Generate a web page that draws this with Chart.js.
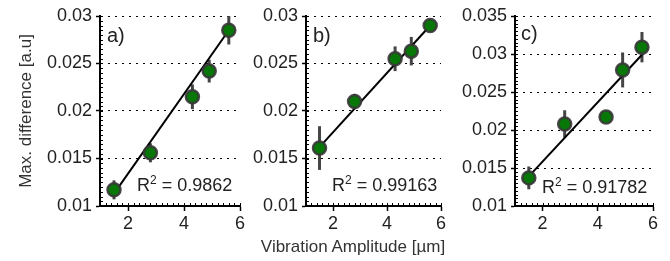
<!DOCTYPE html>
<html>
<head>
<meta charset="utf-8">
<script src="https://cdn.jsdelivr.net/npm/chart.js@4.4.1/dist/chart.umd.min.js"></script>
<style>
body{margin:0;background:#fff;width:670px;height:261px;overflow:hidden;position:relative;font-family:"Liberation Sans",Arial,sans-serif;color:#222}
.panel{position:absolute;top:0;height:261px}
.lbl{position:absolute;font-size:20px;line-height:1}
.r2{position:absolute;font-size:18px;line-height:1;white-space:nowrap}
.r2 sup{font-size:12px;position:relative;top:-2px;vertical-align:top}
#xtitle{position:absolute;left:253px;width:200px;top:237px;text-align:center;font-size:17px;color:#333;white-space:nowrap}
</style>
</head>
<body>

<div class="panel" style="left:0;width:250px"><canvas id="chartA"></canvas></div>
<div class="panel" style="left:250px;width:200px"><canvas id="chartB"></canvas></div>
<div class="panel" style="left:450px;width:220px"><canvas id="chartC"></canvas></div>

<div class="lbl" style="left:107px;top:25px">a)</div>
<div class="lbl" style="left:313px;top:25px">b)</div>
<div class="lbl" style="left:521px;top:23px">c)</div>

<div class="r2" style="left:137px;top:176px">R<sup>2</sup> = 0.9862</div>
<div class="r2" style="left:332px;top:176px">R<sup>2</sup> = 0.99163</div>
<div class="r2" style="left:542px;top:178px">R<sup>2</sup> = 0.91782</div>

<div id="xtitle">Vibration Amplitude [µm]</div>

<script>

// amplitudes (same for the three panels)
const xVals = [1.5, 2.8, 4.3, 4.9, 5.6];

const yA = [0.0117, 0.0156, 0.0215, 0.0242, 0.0285];
const errA = [0.001, 0.001, 0.0013, 0.0012, 0.0015];

const yB = [0.0161, 0.0210, 0.0255, 0.0263, 0.0290];
const errB = [0.0023, 0.0008, 0.0013, 0.0015, 0.0005];

const yC = [0.0137, 0.0208, 0.0217, 0.0279, 0.0309];
const errC = [0.0015, 0.0018, 0.0004, 0.0023, 0.002];

// fitted lines, ends
const fitX = [1.5, 5.6];
const fitA = [0.0113, 0.0285];
const fitB = [0.0162, 0.0290];
const fitC = [0.0139, 0.0299];

const xTicks = [2, 4, 6];
const yTicksAB = [0.01, 0.015, 0.02, 0.025, 0.03];
const yTicksC = [0.01, 0.015, 0.02, 0.025, 0.03, 0.035];

const FONT = "'Liberation Sans', Arial, sans-serif";

const extras = {
    id: "extras",
    beforeDatasetsDraw(chart, args, opts){
        const {ctx, scales:{x, y}} = chart;
        ctx.save();
        ctx.strokeStyle = "#454545";
        ctx.lineWidth = 3;
        opts.err.forEach((e, i) => {
            const px = x.getPixelForValue(xVals[i]);
            ctx.beginPath();
            ctx.moveTo(px, y.getPixelForValue(opts.vals[i] - e));
            ctx.lineTo(px, y.getPixelForValue(opts.vals[i] + e));
            ctx.stroke();
        });
        ctx.restore();
    },
    afterDraw(chart){
        // minor ticks, pointing inside
        const {ctx, scales:{x, y}} = chart;
        ctx.save();
        ctx.strokeStyle = "#000";
        ctx.lineWidth = 1;
        const yb = y.bottom;
        for(let i = 0; i <= 25; i++){
            const px = Math.round(x.getPixelForValue(x.min + i * 0.2)) + 0.5;
            ctx.beginPath();
            ctx.moveTo(px, yb);
            ctx.lineTo(px, yb - 3);
            ctx.stroke();
        }
        const n = Math.round((y.max - y.min) / 0.0005);
        const xl = x.left;
        for(let i = 0; i <= n; i++){
            const py = Math.round(y.getPixelForValue(y.min + i * 0.0005)) + 0.5;
            ctx.beginPath();
            ctx.moveTo(xl, py);
            ctx.lineTo(xl + 3, py);
            ctx.stroke();
        }
        ctx.restore();
    }
};

function makePanel(id, vals, err, fit, yTicks, yWidth, rightPad, showTitle){

    new Chart(
        document.getElementById(id),
        {
            data:{
                datasets:[
                    {
                        type:"scatter",
                        data: xVals.map((v, i) => ({x:v, y:vals[i]})),
                        backgroundColor:"#077807",
                        borderColor:"rgba(55,55,55,0.9)",
                        borderWidth:2.5,
                        pointRadius:6.5,
                        order:0
                    },
                    {
                        type:"line",
                        data: fitX.map((v, i) => ({x:v, y:fit[i]})),
                        borderColor:"#000",
                        borderWidth:2,
                        pointRadius:0,
                        order:1
                    }
                ]
            },
            options:{
                responsive:true,
                maintainAspectRatio:false,
                animation:false,
                layout:{padding:{top:16, right:rightPad, left:0, bottom:0}},
                plugins:{
                    legend:{display:false},
                    tooltip:{enabled:false},
                    extras:{vals:vals, err:err}
                },
                scales:{
                    x:{
                        type:"linear",
                        min:1,
                        max:6,
                        afterBuildTicks: s => { s.ticks = xTicks.map(v => ({value:v})); },
                        afterFit: s => { s.height = 55; },
                        grid:{drawOnChartArea:false, tickLength:5, tickColor:"#000", tickWidth:1.5},
                        border:{color:"#000", width:2},
                        ticks:{color:"#222", font:{family:FONT, size:18}, padding:2}
                    },
                    y:{
                        min:yTicks[0],
                        max:yTicks[yTicks.length - 1],
                        afterBuildTicks: s => { s.ticks = yTicks.map(v => ({value:v})); },
                        afterFit: s => { s.width = yWidth; },
                        grid:{color:"#000", lineWidth:1, tickLength:4, tickColor:"#000", tickWidth:1.5},
                        border:{color:"#000", width:2, dash:[2,5]},
                        ticks:{
                            color:"#222",
                            font:{family:FONT, size:18},
                            padding:4,
                            callback: v => String(+v.toFixed(4))
                        },
                        title:{
                            display:showTitle,
                            text:"Max. difference [a.u]",
                            color:"#333",
                            font:{family:FONT, size:17},
                            padding:{top:16, bottom:0}
                        }
                    }
                }
            },
            plugins:[extras]
        }
    );

}

window.onload = () => {

    makePanel("chartA", yA, errA, fitA, yTicksAB, 100, 10, true);

    makePanel("chartB", yB, errB, fitB, yTicksAB, 56, 5, false);

    makePanel("chartC", yC, errC, fitC, yTicksC, 65, 17, false);

};

</script>
</body>
</html>
